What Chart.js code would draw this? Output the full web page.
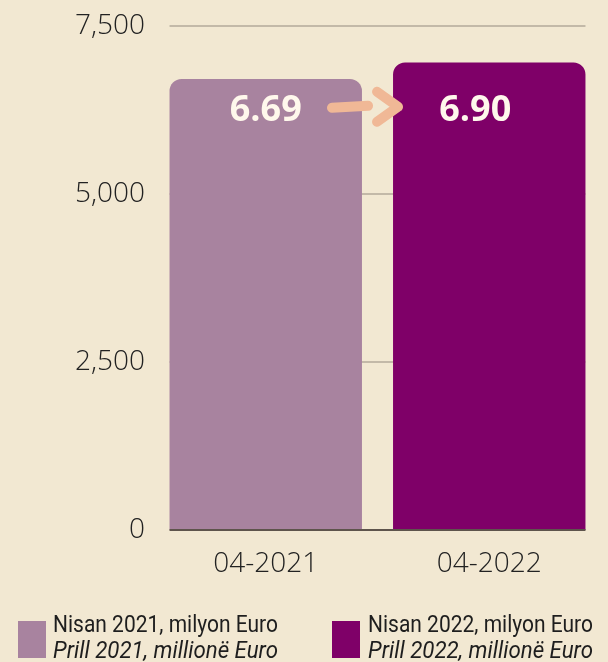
<!DOCTYPE html>
<html>
<head>
<meta charset="utf-8">
<script src="https://cdn.jsdelivr.net/npm/chart.js@4.4.1/dist/chart.umd.min.js"></script>
<style>
  html, body { margin: 0; padding: 0; background: #F2E8D2; }
  canvas { display: block; }
</style>
</head>
<body>
<canvas id="Exports" width="608" height="662"></canvas>
<script>
const categories = ["04-2021", "04-2022"];
const values = [6710, 6955];
const valueLabels = ["6.69", "6.90"];
const barColors = ["#A8839F", "#7F0068"];
const legendLines = [
  ["Nisan 2021, milyon Euro", "Prill 2021, millionë Euro"],
  ["Nisan 2022, milyon Euro", "Prill 2022, millionë Euro"]
];
const yMax = 7500;
const yStep = 2500;

// gridlines only span from the first bar's left edge to the last bar's right edge
const barGrid = {
  id: 'barGrid',
  beforeDatasetsDraw(chart) {
    const ctx = chart.ctx;
    const y = chart.scales.y;
    const bars = chart.getDatasetMeta(0).data;
    const left = bars[0].x - bars[0].width / 2;
    const right = bars[bars.length - 1].x + bars[bars.length - 1].width / 2;
    ctx.save();
    y.ticks.forEach(t => {
      if (t.value === 0) return;
      const py = Math.round(y.getPixelForValue(t.value));
      ctx.strokeStyle = '#B3AA9A';
      ctx.lineWidth = 1.5;
      ctx.beginPath();
      ctx.moveTo(left, py);
      ctx.lineTo(right, py);
      ctx.stroke();
    });
    ctx.restore();
  },
  afterDatasetsDraw(chart) {
    const ctx = chart.ctx;
    const y = chart.scales.y;
    const bars = chart.getDatasetMeta(0).data;
    const left = bars[0].x - bars[0].width / 2;
    const right = bars[bars.length - 1].x + bars[bars.length - 1].width / 2;
    const py = y.getPixelForValue(0);
    ctx.save();
    ctx.strokeStyle = '#5E544C';
    ctx.lineWidth = 2;
    ctx.beginPath();
    ctx.moveTo(left, py);
    ctx.lineTo(right, py);
    ctx.stroke();
    ctx.restore();
  }
};

// value labels + arrow drawn on top of bars
const barExtras = {
  id: 'barExtras',
  afterDatasetsDraw(chart) {
    const ctx = chart.ctx;
    const bars = chart.getDatasetMeta(0).data;
    const labelY = chart.chartArea.top + 85;
    const dx = [0, -14];
    ctx.save();
    ctx.fillStyle = '#FFF8EC';
    ctx.font = 'bold 36px "Open Sans"';
    ctx.textAlign = 'center';
    ctx.textBaseline = 'middle';
    bars.forEach((bar, i) => {
      ctx.fillText(valueLabels[i], bar.x + dx[i], labelY);
    });

    // arrow
    const b1 = bars[0], b2 = bars[1];
    const x0 = b1.x + b1.width / 2 - 30;
    const tip = b2.x - b2.width / 2 + 5;
    const ay = labelY - 4;
    ctx.strokeStyle = '#F0B896';
    ctx.lineWidth = 10;
    ctx.lineCap = 'round';
    ctx.lineJoin = 'round';
    ctx.beginPath();
    ctx.moveTo(x0, ay + 1);
    ctx.lineTo(tip - 30, ay - 1);
    ctx.stroke();
    ctx.beginPath();
    ctx.moveTo(tip - 21, ay - 15);
    ctx.lineTo(tip, ay);
    ctx.lineTo(tip - 21, ay + 15);
    ctx.stroke();
    ctx.restore();
  }
};

// two-line legend at the bottom
const bottomLegend = {
  id: 'bottomLegend',
  afterDraw(chart) {
    const ctx = chart.ctx;
    const items = [{ box: 18, text: 53 }, { box: 332, text: 368 }];
    ctx.save();
    items.forEach((it, i) => {
      ctx.fillStyle = barColors[i];
      ctx.fillRect(it.box, 621, 28, 37);
      ctx.fillStyle = '#1E1E1E';
      ctx.textBaseline = 'alphabetic';
      ctx.textAlign = 'left';
      const fonts = ['400 23px Roboto', 'italic 400 23px Roboto'];
      const baselines = [632, 658];
      legendLines[i].forEach((line, j) => {
        ctx.font = fonts[j];
        const w = ctx.measureText(line).width;
        const sx = Math.min(1, 225 / w);
        ctx.save();
        ctx.translate(it.text, baselines[j]);
        ctx.scale(sx, 1);
        ctx.fillText(line, 0, 0);
        ctx.restore();
      });
    });
    ctx.restore();
  }
};

new Chart(document.getElementById('Exports'), {
  type: 'bar',
  data: {
    labels: categories,
    datasets: [{
      data: values,
      backgroundColor: barColors,
      borderRadius: { topLeft: 12, topRight: 12 },
      borderSkipped: 'bottom',
      barPercentage: 0.861,
      categoryPercentage: 1
    }]
  },
  options: {
    responsive: false,
    animation: false,
    layout: { padding: { top: 0.5, right: 7, bottom: 0, left: 0 } },
    plugins: {
      legend: { display: false },
      tooltip: { enabled: false }
    },
    scales: {
      x: {
        afterFit: s => { s.height = 132; },
        grid: { display: false, drawTicks: false },
        border: { display: false },
        ticks: {
          color: '#222',
          font: { family: '"Open Sans"', size: 28, weight: 300 },
          padding: 17
        }
      },
      y: {
        min: 0,
        max: yMax,
        afterFit: s => { s.width = 154; },
        border: { display: false },
        grid: { display: false, drawTicks: false },
        ticks: {
          stepSize: yStep,
          color: '#222',
          font: { family: '"Open Sans"', size: 28, weight: 300 },
          padding: 9,
          callback: v => v.toLocaleString('en-US')
        }
      }
    }
  },
  plugins: [barGrid, barExtras, bottomLegend]
});
</script>
</body>
</html>
